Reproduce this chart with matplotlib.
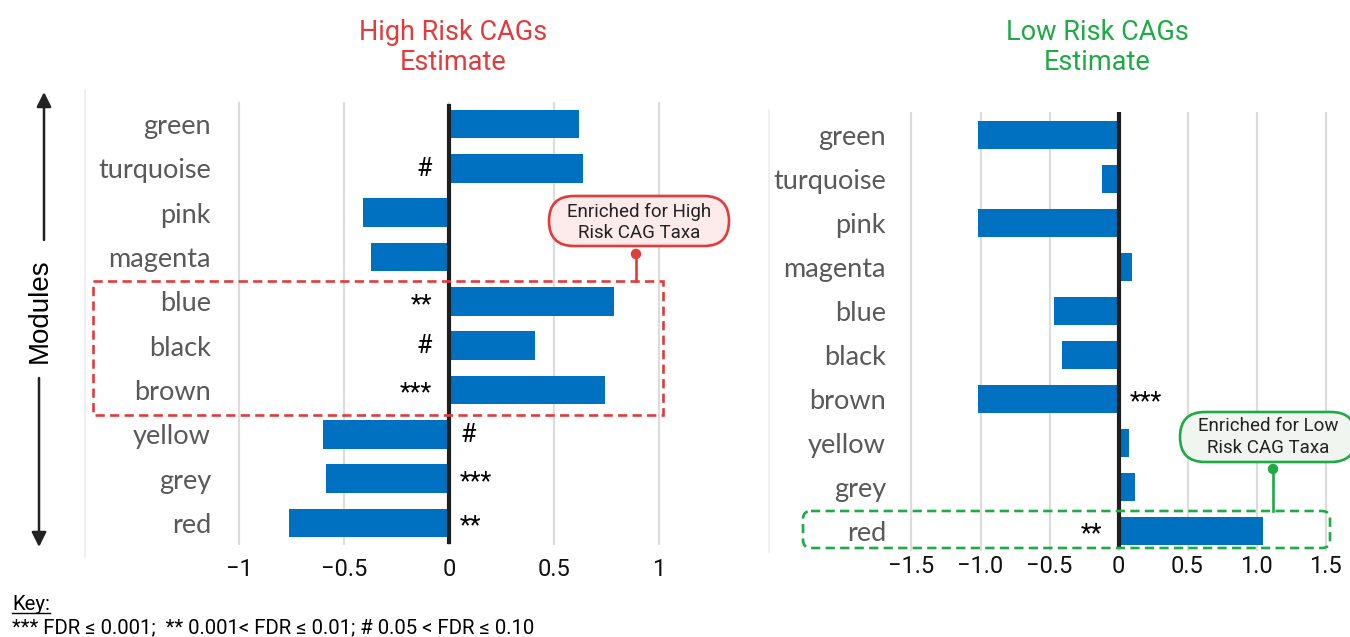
import matplotlib
matplotlib.use("Agg")
import matplotlib.pyplot as plt
import matplotlib.transforms as mtransforms
from matplotlib.patches import FancyBboxPatch, FancyArrowPatch, Rectangle, Circle
from matplotlib.lines import Line2D

# ---- data -------------------------------------------------------------
modules = ["green", "turquoise", "pink", "magenta", "blue",
           "black", "brown", "yellow", "grey", "red"]
high_risk = [0.62, 0.64, -0.41, -0.37, 0.785, 0.41, 0.745, -0.60, -0.585, -0.76]
low_risk = [-1.02, -0.12, -1.02, 0.10, -0.47, -0.41, -1.02, 0.075, 0.12, 1.05]
high_sig = ["", "#", "", "", "**", "#", "***", "#", "***", "**"]
low_sig = ["", "", "", "", "", "", "***", "", "", "**"]

high_ticks = [-1, -0.5, 0, 0.5, 1]
high_ticklabels = ["\u22121", "\u22120.5", "0", "0.5", "1"]
low_ticks = [-1.5, -1.0, -0.5, 0, 0.5, 1.0, 1.5]
low_ticklabels = ["\u22121.5", "\u22121.0", "\u22120.5", "0", "0.5", "1.0", "1.5"]

key_title = "Key:"
key_text = "*** FDR \u2264 0.001;  ** 0.001< FDR \u2264 0.01; # 0.05 < FDR \u2264 0.10"

# ---- style ------------------------------------------------------------
BAR = "#0070C0"
RED = "#E23B3B"
GREEN = "#1EAA45"
W, H = 1350, 637

fig = plt.figure(figsize=(W / 100, H / 100), dpi=100)
fig.patch.set_facecolor("white")

# pixel coordinates (origin top-left) for layout helpers
px = mtransforms.Affine2D().scale(1 / W, -1 / H).translate(0, 1) + fig.transFigure


def add_axes_px(x0, x1, y0, y1):
    return fig.add_axes([x0 / W, 1 - y1 / H, (x1 - x0) / W, (y1 - y0) / H])


def draw_panel(ax, values, sig, ticks, ticklabels, xlim, ylim, zero_span,
               ypad, xpad):
    rows = list(range(len(modules)))
    ax.barh(rows, values, height=0.65, color=BAR, zorder=2)
    ax.set_xlim(*xlim)
    ax.set_ylim(*ylim)
    ax.set_xticks(ticks)
    ax.set_xticklabels(ticklabels, fontfamily="Roboto", fontsize=17,
                       color="#111111")
    ax.set_yticks(rows)
    ax.set_yticklabels(modules, fontfamily="Lato", fontsize=19.5,
                       color="#595959")
    ax.tick_params(axis="y", length=0, pad=ypad)
    ax.tick_params(axis="x", length=0, pad=xpad)
    ax.grid(axis="x", color="#dcdcdc", lw=1.6)
    ax.set_axisbelow(True)
    for s in ax.spines.values():
        s.set_visible(False)
    ax.axvline(0, ymin=zero_span[0], ymax=zero_span[1], color="#1e1e1e",
               lw=3.0, zorder=3)
    for i, (v, s) in enumerate(zip(values, sig)):
        if not s:
            continue
        dy = -2.5 if "*" in s else -0.5
        if v > 0:
            ax.annotate(s, xy=(0, i), xytext=(-12, dy),
                        textcoords="offset points", ha="right", va="center",
                        fontfamily="Roboto", fontsize=18, color="black")
        else:
            ax.annotate(s, xy=(0, i), xytext=(8, dy),
                        textcoords="offset points", ha="left", va="center",
                        fontfamily="Roboto", fontsize=18, color="black")


ax1 = add_axes_px(228.5, 669.5, 101.8, 545.2)
draw_panel(ax1, high_risk, high_sig, high_ticks, high_ticklabels,
           (-1.05, 1.05), (9.5, -0.5), (0.007, 0.991), 12.6, 9.0)

ax2 = add_axes_px(904.6, 1332.4, 112.0, 550.8)
draw_panel(ax2, low_risk, low_sig, low_ticks, low_ticklabels,
           (-1.55, 1.55), (9.45, -0.52), (0.013, 0.995), 13.4, 3.3)

# faint chart-area borders
for xs, ys in (([85, 85], [90, 557]), ([769, 769], [110, 552])):
    fig.add_artist(Line2D(xs, ys, transform=px, color="#ededed", lw=1.2))

# panel titles
for x, y, t, c in ((453, 32, "High Risk CAGs", RED), (453, 62, "Estimate", RED),
                   (1097, 33, "Low Risk CAGs", GREEN), (1097, 63, "Estimate", GREEN)):
    fig.text(x, y, t, transform=px, ha="center", va="center",
             fontfamily="Roboto", fontsize=19.5, color=c)

# "Modules" axis label with arrows
fig.text(40, 311, "Modules", transform=px, rotation=90, ha="center",
         va="center", fontfamily="Liberation Sans", fontsize=20, color="black")
for (xa, ya), (xb, yb) in (((44, 240), (44, 92)), ((39, 378), (39, 547))):
    fig.add_artist(FancyArrowPatch((xa, ya), (xb, yb), transform=px,
                                   arrowstyle="-|>", mutation_scale=22,
                                   lw=1.8, color="#222222",
                                   shrinkA=0, shrinkB=0))

# highlight boxes
fig.add_artist(Rectangle((93, 281), 570, 134, transform=px, fill=False,
                         ec=RED, lw=1.9, ls=(0, (3.5, 2.0))))
fig.add_artist(FancyBboxPatch((803, 511), 527, 37, transform=px, fill=False,
                              boxstyle="round,pad=0,rounding_size=8",
                              ec=GREEN, lw=1.9, ls=(0, (3.5, 2.0))))

# callouts
callouts = [
    ((549, 196, 180, 50), "#FDEAEA", RED, (639, 212, 233),
     ("Enriched for High", "Risk CAG Taxa"), (636, 254, 281)),
    ((1180, 412, 176, 50), "#F1F5EF", GREEN, (1268, 426, 448),
     ("Enriched for Low", "Risk CAG Taxa"), (1273, 469, 511)),
]
for (x0, y0, w, h), fc, ec, (tx, ty1, ty2), lines, (cx, cy0, cy1) in callouts:
    fig.add_artist(FancyBboxPatch((x0, y0), w, h, transform=px, fc=fc, ec=ec,
                                  lw=1.9, boxstyle="round,pad=0,rounding_size=25"))
    for ty, line in zip((ty1, ty2), lines):
        fig.text(tx, ty, line, transform=px, ha="center", va="center",
                 fontfamily="Roboto", fontsize=13.5, color="#222222")
    fig.add_artist(Line2D([cx, cx], [cy0, cy1], transform=px, color=ec, lw=1.9))
    fig.add_artist(Circle((cx, cy0), 4.5, transform=px, color=ec))

# key
kt = fig.text(12, 604, key_title, transform=px, ha="left", va="center",
              fontfamily=["Roboto", "DejaVu Sans"], fontsize=14.7, color="black")
fig.text(12, 628, key_text, transform=px, ha="left", va="center",
         fontfamily=["Roboto", "DejaVu Sans"], fontsize=14.7, color="black")
renderer = fig.canvas.get_renderer()
bb = kt.get_window_extent(renderer)
fig.add_artist(Line2D([12, 12 + bb.width], [613, 613], transform=px,
                      color="black", lw=1.0))

fig.savefig("out.png", dpi=100, facecolor="white")
